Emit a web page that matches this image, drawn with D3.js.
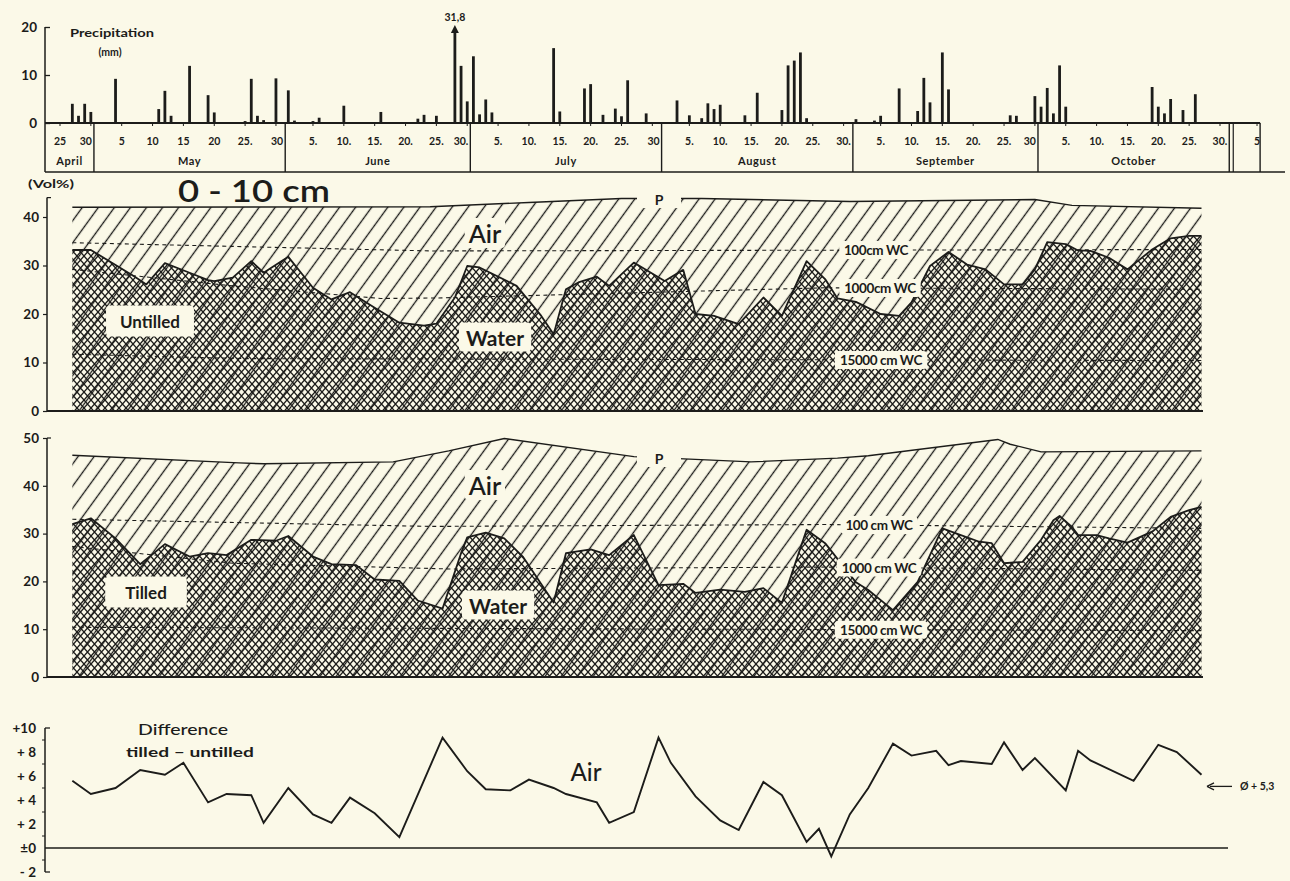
<!DOCTYPE html>
<html>
<head>
<meta charset="utf-8">
<script src="https://cdn.jsdelivr.net/npm/d3@7"></script>
<style>
  html, body { margin: 0; padding: 0; background: #fbf9e8; }
  svg { display: block; font-family: "Lato", "Liberation Sans", "DejaVu Sans", sans-serif; }
</style>
</head>
<body>
<svg id="chart" width="1290" height="881"></svg>
<script>
// ---------- data ----------
// daily precipitation, mm  [month-day, value]
const precipitation = [
  ["04-27", 4.0], ["04-28", 1.5], ["04-29", 4.0], ["04-30", 2.3],
  ["05-04", 9.2], ["05-11", 2.9], ["05-12", 6.7], ["05-13", 1.5], ["05-16", 11.9], ["05-19", 5.8],
  ["05-20", 2.2], ["05-25", 0.4], ["05-26", 9.2], ["05-27", 1.5], ["05-28", 0.6], ["05-30", 9.3],
  ["06-01", 6.8], ["06-02", 0.5], ["06-05", 0.4], ["06-06", 1.1], ["06-10", 3.6], ["06-16", 2.3],
  ["06-22", 0.9], ["06-23", 1.7], ["06-25", 1.5], ["06-28", 31.8], ["06-29", 11.9], ["06-30", 4.5],
  ["07-01", 13.9], ["07-02", 1.8], ["07-03", 4.9], ["07-04", 2.2], ["07-14", 15.6], ["07-15", 2.4],
  ["07-19", 7.2], ["07-20", 8.1], ["07-22", 1.7], ["07-24", 3.0], ["07-25", 1.4], ["07-26", 8.9], ["07-29", 2.0],
  ["08-03", 4.7], ["08-05", 1.6], ["08-07", 1.0], ["08-08", 4.1], ["08-09", 2.9], ["08-10", 3.8],
  ["08-14", 1.6], ["08-16", 6.3], ["08-20", 2.7], ["08-21", 12.0], ["08-22", 13.0], ["08-23", 14.7], ["08-24", 1.0],
  ["09-01", 0.8], ["09-04", 0.5], ["09-05", 1.5], ["09-08", 7.2], ["09-11", 2.5], ["09-12", 9.4],
  ["09-13", 4.3], ["09-15", 14.7], ["09-16", 7.0], ["09-26", 1.6], ["09-27", 1.5], ["09-30", 5.6],
  ["10-01", 3.4], ["10-02", 7.3], ["10-03", 2.0], ["10-04", 12.0], ["10-05", 3.4],
  ["10-19", 7.5], ["10-20", 3.4], ["10-21", 2.0], ["10-22", 5.0], ["10-24", 2.7], ["10-26", 6.0]
];
const precipTicks = [0, 10, 20];

// date axis
const dayTickDates = [
  "04-25", "04-30",
  "05-05", "05-10", "05-15", "05-20", "05-25", "05-30",
  "06-05", "06-10", "06-15", "06-20", "06-25", "06-30",
  "07-05", "07-10", "07-15", "07-20", "07-25", "07-30",
  "08-05", "08-10", "08-15", "08-20", "08-25", "08-30",
  "09-05", "09-10", "09-15", "09-20", "09-25", "09-30",
  "10-05", "10-10", "10-15", "10-20", "10-25", "10-30",
  "11-05"
];
const dayTickLabels = [
  "25", "30",
  "5", "10", "15", "20", "25.", "30",
  "5.", "10.", "15.", "20.", "25.", "30.",
  "5.", "10.", "15.", "20.", "25.", "30",
  "5.", "10.", "15.", "20.", "25.", "30.",
  "5.", "10.", "15.", "20.", "25.", "30",
  "5.", "10.", "15.", "20.", "25.", "30.",
  "5"
];
const monthNumbers = [4, 5, 6, 7, 8, 9, 10, 11];
const monthNames = ["April", "May", "June", "July", "August", "September", "October", ""];

// 0-10 cm, untilled plot (Vol%)
const untilledWater = [
  ["04-27", 33.2], ["04-30", 33.2], ["05-07", 27.8], ["05-09", 26.1], ["05-12", 30.5], ["05-16", 28.5],
  ["05-19", 27.0], ["05-20", 26.8], ["05-23", 27.5], ["05-26", 30.9], ["05-28", 28.5], ["06-01", 31.8],
  ["06-05", 25.4], ["06-08", 23.0], ["06-11", 24.5], ["06-15", 21.3], ["06-19", 18.2], ["06-23", 17.6],
  ["06-25", 18.0], ["06-28", 23.4], ["06-30", 29.9], ["07-02", 29.6], ["07-08", 25.8], ["07-12", 19.6],
  ["07-14", 15.8], ["07-16", 25.1], ["07-18", 26.5], ["07-21", 27.7], ["07-23", 25.8], ["07-27", 30.6],
  ["08-01", 26.8], ["08-04", 29.1], ["08-06", 20.0], ["08-09", 19.6], ["08-13", 17.9], ["08-17", 23.4],
  ["08-20", 19.6], ["08-24", 30.9], ["08-27", 27.2], ["08-29", 23.2], ["09-01", 22.5], ["09-05", 20.0],
  ["09-08", 19.6], ["09-10", 22.4], ["09-13", 29.9], ["09-16", 32.8], ["09-19", 30.2], ["09-22", 29.2],
  ["09-25", 26.1], ["09-28", 26.1], ["09-30", 29.2], ["10-02", 34.8], ["10-05", 34.4], ["10-07", 33.1],
  ["10-09", 33.0], ["10-12", 31.6], ["10-15", 29.2], ["10-19", 33.3], ["10-22", 35.6], ["10-25", 36.1],
  ["10-27", 36.1]
];
const untilledPorosity = [
  ["04-27", 42.0], ["06-24", 42.1], ["07-10", 43.0], ["07-25", 43.8], ["08-07", 43.8],
  ["08-31", 43.2], ["09-30", 43.6], ["10-06", 42.4], ["10-27", 41.8]
];
const untilled100 = [["04-27", 34.7], ["06-24", 33.0], ["10-27", 33.3]];
const untilled1000 = [["04-27", 29.2], ["05-23", 25.8], ["06-16", 23.2], ["06-25", 23.3], ["08-27", 25.4], ["10-27", 25.1]];
const untilled15000 = [["04-27", 11.7], ["05-25", 10.8], ["10-27", 10.4]];
const untilledTicks = [0, 10, 20, 30, 40];

// 0-10 cm, tilled plot (Vol%)
const tilledWater = [
  ["04-27", 32.0], ["04-30", 33.2], ["05-04", 29.0], ["05-08", 23.6], ["05-12", 27.8], ["05-16", 25.2],
  ["05-19", 25.9], ["05-22", 25.5], ["05-26", 28.7], ["05-30", 28.5], ["06-01", 29.5], ["06-05", 25.2],
  ["06-08", 23.6], ["06-12", 23.4], ["06-15", 20.4], ["06-19", 20.1], ["06-22", 16.0], ["06-26", 14.3],
  ["06-29", 25.9], ["06-30", 29.2], ["07-03", 30.2], ["07-06", 29.0], ["07-09", 25.2], ["07-14", 15.6],
  ["07-16", 25.9], ["07-20", 26.7], ["07-23", 25.5], ["07-27", 29.7], ["07-31", 19.2], ["08-04", 19.5],
  ["08-06", 17.6], ["08-10", 18.3], ["08-14", 17.8], ["08-17", 18.6], ["08-20", 15.5], ["08-24", 30.8],
  ["08-27", 28.0], ["09-01", 19.8], ["09-03", 18.2], ["09-07", 14.0], ["09-11", 19.9], ["09-15", 31.1],
  ["09-18", 29.7], ["09-21", 28.3], ["09-23", 28.0], ["09-25", 23.8], ["09-28", 24.1], ["10-01", 28.7],
  ["10-03", 32.8], ["10-04", 33.7], ["10-06", 31.4], ["10-07", 29.7], ["10-10", 29.7], ["10-12", 29.0],
  ["10-15", 28.1], ["10-19", 30.4], ["10-22", 33.5], ["10-25", 34.9], ["10-27", 35.6]
];
const tilledPorosity = [
  ["04-27", 46.4], ["05-24", 44.8], ["05-28", 44.6], ["06-18", 45.0], ["06-27", 47.3], ["07-06", 49.9],
  ["07-27", 46.1], ["08-15", 45.0], ["08-29", 45.8], ["09-03", 46.3], ["09-24", 49.7], ["09-26", 48.7],
  ["10-01", 47.1], ["10-27", 47.3]
];
const tilled100 = [["04-27", 33.0], ["06-24", 31.5], ["08-27", 31.9], ["10-27", 31.1]];
const tilled1000 = [["04-27", 27.3], ["05-23", 23.8], ["06-27", 22.6], ["08-27", 23.0], ["10-27", 22.3]];
const tilled15000 = [["04-27", 10.4], ["10-27", 9.7]];
const tilledTicks = [0, 10, 20, 30, 40, 50];

// air difference, tilled - untilled (Vol%)
const airDifference = [
  ["04-27", 5.6], ["04-30", 4.5], ["05-04", 5.0], ["05-08", 6.5], ["05-12", 6.1], ["05-15", 7.1],
  ["05-19", 3.8], ["05-22", 4.5], ["05-26", 4.4], ["05-28", 2.1], ["06-01", 5.0], ["06-05", 2.8],
  ["06-08", 2.1], ["06-11", 4.2], ["06-15", 2.9], ["06-19", 0.9], ["06-26", 9.2], ["06-30", 6.4],
  ["07-03", 4.9], ["07-07", 4.8], ["07-10", 5.7], ["07-14", 5.0], ["07-16", 4.5], ["07-21", 3.8],
  ["07-23", 2.1], ["07-27", 3.0], ["07-31", 9.2], ["08-02", 7.1], ["08-06", 4.3], ["08-10", 2.3],
  ["08-13", 1.5], ["08-17", 5.5], ["08-20", 4.4], ["08-24", 0.5], ["08-26", 1.6], ["08-28", -0.7],
  ["08-31", 2.8], ["09-03", 5.0], ["09-07", 8.7], ["09-10", 7.7], ["09-14", 8.1], ["09-16", 6.9],
  ["09-18", 7.25], ["09-23", 7.0], ["09-25", 8.8], ["09-28", 6.5], ["09-30", 7.5], ["10-05", 4.8],
  ["10-07", 8.1], ["10-09", 7.3], ["10-16", 5.6], ["10-20", 8.6], ["10-23", 8.0], ["10-27", 6.1]
];
const meanDifference = 5.3;
const diffTicks = [-2, 0, 2, 4, 6, 8, 10];
const diffTickLabels = ["- 2", "±0", "+ 2", "+ 4", "+ 6", "+ 8", "+10"];

// ---------- setup ----------
const INK = "#1c1c1a";
const BG = "#fbf9e8";
const YEAR = 1975;
const toDate = s => { const [m, d] = s.split("-").map(Number); return new Date(Date.UTC(YEAR, m - 1, d, 12)); };
const monthStart = m => new Date(Date.UTC(YEAR, m - 1, 1));
const comma = d3.formatLocale({ decimal: ",", thousands: ".", grouping: [3], currency: ["", ""] }).format(".1f");

const svg = d3.select("#chart");
svg.append("rect").attr("width", 1290).attr("height", 881).attr("fill", BG);

const x = d3.scaleUtc().domain([toDate("04-25"), toDate("10-30")]).range([60, 1220]);

// hatch patterns
const defs = svg.append("defs");
const airPat = defs.append("pattern").attr("id", "airHatch")
  .attr("patternUnits", "userSpaceOnUse").attr("width", 13).attr("height", 13)
  .attr("patternTransform", "rotate(36)");
airPat.append("line").attr("x1", 6.5).attr("y1", -1).attr("x2", 6.5).attr("y2", 14)
  .attr("stroke", INK).attr("stroke-width", 1.35);

const crossPat = defs.append("pattern").attr("id", "waterCross")
  .attr("patternUnits", "userSpaceOnUse").attr("width", 7).attr("height", 8);
crossPat.append("path").attr("d", "M0,0L7,8M7,0L0,8")
  .attr("stroke", INK).attr("stroke-width", 1.35).attr("fill", "none");

function label(g, text, cx, cy, size, opts = {}) {
  const t = g.append("text")
    .attr("x", cx).attr("y", cy)
    .attr("text-anchor", opts.anchor || "middle")
    .attr("dominant-baseline", "central")
    .attr("font-size", size)
    .attr("font-weight", opts.weight || 700)
    .attr("fill", INK)
    .text(text);
  if (opts.length) t.attr("textLength", opts.length).attr("lengthAdjust", "spacingAndGlyphs");
  if (opts.box) {
    const b = t.node().getBBox();
    const px = opts.padX != null ? opts.padX : 4, py = opts.padY != null ? opts.padY : 2;
    g.insert("rect", () => t.node())
      .attr("x", b.x - px).attr("y", b.y - py)
      .attr("width", b.width + 2 * px).attr("height", b.height + 2 * py)
      .attr("rx", 4).attr("fill", BG);
  }
  return t;
}

// ---------- precipitation ----------
const yP = d3.scaleLinear().domain([0, 20]).range([123, 27]);
const gP = svg.append("g");
const topP = 20;

gP.selectAll("rect.bar").data(precipitation).join("rect")
  .attr("class", "bar")
  .attr("x", d => x(toDate(d[0])) - 1.4)
  .attr("width", 2.8)
  .attr("y", d => d[1] > topP ? yP(topP) + 5 : yP(d[1]))
  .attr("height", d => yP(0) - (d[1] > topP ? yP(topP) + 5 : yP(d[1])))
  .attr("fill", INK);

// off-scale bar: arrow + value
precipitation.filter(d => d[1] > topP).forEach(d => {
  const cx = x(toDate(d[0]));
  gP.append("path")
    .attr("d", `M${cx - 4},${yP(topP) + 6}L${cx},${yP(topP) - 2}L${cx + 4},${yP(topP) + 6}Z`)
    .attr("fill", INK);
  label(gP, comma(d[1]), cx, yP(topP) - 10, 10.5);
});

// value axis
const axP = gP.append("g").attr("transform", "translate(45,0)")
  .call(d3.axisLeft(yP).tickValues(precipTicks).tickSize(-5).tickSizeOuter(0).tickPadding(8));
axP.select(".domain").remove();
axP.selectAll("line").attr("stroke", INK).attr("stroke-width", 1.3);
axP.selectAll("text").attr("font-size", 13.5).attr("font-weight", 700).attr("fill", INK)
  .attr("font-family", "Lato, 'Liberation Sans', sans-serif");
gP.append("line").attr("x1", 45).attr("x2", 45).attr("y1", yP(topP)).attr("y2", 172)
  .attr("stroke", INK).attr("stroke-width", 1.5);

label(gP, "Precipitation", 112, 33, 10.5, { length: 84 });
label(gP, "(mm)", 110, 52, 10.5);

// date box
const lastDay = new Date(Date.UTC(YEAR, 10, 6));
gP.append("line").attr("x1", 45).attr("x2", x(lastDay)).attr("y1", yP(0)).attr("y2", yP(0))
  .attr("stroke", INK).attr("stroke-width", 1.8);
gP.append("line").attr("x1", 45).attr("x2", 1285).attr("y1", 172).attr("y2", 172)
  .attr("stroke", INK).attr("stroke-width", 1.6);

const bounds = monthNumbers.slice(1).map(m => x(monthStart(m)));
bounds.concat([x(lastDay)]).forEach(bx => {
  gP.append("line").attr("x1", bx).attr("x2", bx).attr("y1", yP(0)).attr("y2", 172)
    .attr("stroke", INK).attr("stroke-width", 1.4);
});
gP.append("line").attr("x1", bounds[bounds.length - 1] + 4).attr("x2", bounds[bounds.length - 1] + 4)
  .attr("y1", yP(0)).attr("y2", 172).attr("stroke", INK).attr("stroke-width", 1.2);

// day ticks and labels
dayTickDates.forEach((s, i) => {
  const tx = x(toDate(s));
  gP.append("line").attr("x1", tx).attr("x2", tx).attr("y1", yP(0)).attr("y2", yP(0) + 3)
    .attr("stroke", INK).attr("stroke-width", 1);
  const isThirty = s.endsWith("-30");
  const m = +s.slice(0, 2);
  const lx = isThirty ? x(monthStart(m + 1)) - 2 : tx;
  label(gP, dayTickLabels[i], lx, 141, 10.5, { anchor: isThirty ? "end" : "middle" });
});

// month names
const edges = [45].concat(bounds).concat([x(lastDay)]);
monthNames.forEach((name, i) => {
  if (!name) return;
  label(gP, name, (edges[i] + edges[i + 1]) / 2, 160, 11, { weight: 700 }).attr("letter-spacing", 0.6);
});

// ---------- soil moisture panels ----------
function moisturePanel(cfg) {
  const { y, water, pore, wc, wcNames, ticks, topVal, tag, tagBox, airPos, waterPos, pBox } = cfg;
  const g = svg.append("g");
  const px = d => x(toDate(d[0]));
  const area0 = d3.area().x(px).y0(y(0)).y1(d => y(d[1]));
  const line = d3.line().x(px).y(d => y(d[1]));

  g.append("path").datum(pore).attr("d", area0).attr("fill", "url(#airHatch)");
  g.append("path").datum(water).attr("d", area0).attr("fill", "url(#waterCross)");
  g.append("path").datum(water).attr("d", line).attr("fill", "none")
    .attr("stroke", INK).attr("stroke-width", 1.8).attr("stroke-linejoin", "round");
  g.append("path").datum(pore).attr("d", line).attr("fill", "none")
    .attr("stroke", INK).attr("stroke-width", 1.4);

  wc.forEach(series => {
    g.append("path").datum(series).attr("d", line).attr("fill", "none")
      .attr("stroke", INK).attr("stroke-width", 1.1).attr("stroke-dasharray", "4,3.5");
  });

  // baseline and value axis
  const x0 = 47, x1 = px(water[water.length - 1]) + 1.5;
  g.append("line").attr("x1", x0).attr("x2", x1).attr("y1", y(0)).attr("y2", y(0))
    .attr("stroke", INK).attr("stroke-width", 1.8);
  const ax = g.append("g").attr("transform", `translate(${x0},0)`)
    .call(d3.axisLeft(y).tickValues(ticks).tickSize(4).tickSizeOuter(0).tickPadding(4));
  ax.select(".domain").remove();
  ax.selectAll("line").attr("stroke", INK).attr("stroke-width", 1.2);
  ax.selectAll("text").attr("font-size", 13.5).attr("font-weight", 700).attr("fill", INK)
    .attr("font-family", "Lato, 'Liberation Sans', sans-serif");
  g.append("line").attr("x1", x0).attr("x2", x0).attr("y1", y(0)).attr("y2", y(topVal))
    .attr("stroke", INK).attr("stroke-width", 1.5);
  g.append("line").attr("x1", x0).attr("x2", x0 + 4).attr("y1", y(topVal)).attr("y2", y(topVal))
    .attr("stroke", INK).attr("stroke-width", 1.2);

  // suction lines labels
  wcNames.forEach((nm, i) => {
    const s = wc[i];
    const pos = cfg.wcLabelX[i];
    const v = d3.scaleUtc().domain(s.map(d => toDate(d[0]))).range(s.map(d => d[1]));
    label(g, nm, pos, y(v(x.invert(pos))), 13.5, { box: true, padX: 3, padY: 1, weight: 700 })
      .attr("letter-spacing", -0.4);
  });

  // porosity mark
  g.append("rect").attr("x", pBox[0]).attr("y", pBox[1]).attr("width", pBox[2]).attr("height", pBox[3]).attr("fill", BG);
  label(g, "P", pBox[0] + pBox[2] / 2, pBox[1] + pBox[3] / 2, 14);

  label(g, "Air", airPos[0], airPos[1], 25, { box: true, padX: 3, padY: 0, weight: 600 });
  label(g, "Water", waterPos[0], waterPos[1], 21, { box: true, padX: 7, padY: 2, weight: 700 });
  label(g, tag, tagBox[0], tagBox[1], 17, { box: true, padX: tagBox[2], padY: 5, weight: 700 });
  return g;
}

const yU = d3.scaleLinear().domain([0, 44]).range([411, 197.6]);
const yT = d3.scaleLinear().domain([0, 50]).range([677, 438]);

moisturePanel({
  y: yU, water: untilledWater, pore: untilledPorosity,
  wc: [untilled100, untilled1000, untilled15000],
  wcNames: ["100cm WC", "1000cm WC", "15000 cm WC"],
  wcLabelX: [876, 880, 881],
  ticks: untilledTicks, topVal: 44,
  tag: "Untilled", tagBox: [150, 321, 14],
  airPos: [485, 233], waterPos: [495, 337],
  pBox: [637, 190, 44, 18]
});

moisturePanel({
  y: yT, water: tilledWater, pore: tilledPorosity,
  wc: [tilled100, tilled1000, tilled15000],
  wcNames: ["100 cm WC", "1000 cm WC", "15000 cm WC"],
  wcLabelX: [879, 879, 881],
  ticks: tilledTicks, topVal: 50,
  tag: "Tilled", tagBox: [146, 592, 20],
  airPos: [485, 485], waterPos: [498, 605],
  pBox: [637, 449, 44, 18]
});

// panel headings
label(svg, "(Vol%)", 51, 184, 10.5, { length: 46 });
label(svg, "0 - 10 cm", 254, 190, 30, { length: 152, weight: 600 });

// ---------- difference panel ----------
const yD = d3.scaleLinear().domain([-2, 10]).range([872, 728]);
const gD = svg.append("g");
gD.append("line").attr("x1", 45).attr("x2", 1228).attr("y1", yD(0)).attr("y2", yD(0))
  .attr("stroke", INK).attr("stroke-width", 1.6);
gD.append("path").datum(airDifference)
  .attr("d", d3.line().x(d => x(toDate(d[0]))).y(d => yD(d[1])))
  .attr("fill", "none").attr("stroke", INK).attr("stroke-width", 1.9).attr("stroke-linejoin", "miter");

const axD = gD.append("g").attr("transform", "translate(45,0)")
  .call(d3.axisLeft(yD).tickValues(diffTicks).tickFormat((d, i) => diffTickLabels[i])
    .tickSize(0).tickPadding(9));
axD.select(".domain").remove();
axD.selectAll("text").attr("font-size", 13.5).attr("font-weight", 700).attr("fill", INK)
  .attr("font-family", "Lato, 'Liberation Sans', sans-serif");
gD.append("line").attr("x1", 45).attr("x2", 45).attr("y1", yD(10)).attr("y2", yD(-2))
  .attr("stroke", INK).attr("stroke-width", 1.5);
[10, -2].forEach(v => gD.append("line").attr("x1", 45).attr("x2", 50).attr("y1", yD(v)).attr("y2", yD(v))
  .attr("stroke", INK).attr("stroke-width", 1.3));
d3.range(-1, 10, 2).forEach(v => gD.append("line").attr("x1", 42).attr("x2", 45).attr("y1", yD(v)).attr("y2", yD(v))
  .attr("stroke", INK).attr("stroke-width", 1));

label(gD, "Difference", 183, 728, 16, { weight: 500, length: 90 });
label(gD, "tilled – untilled", 190, 752, 13, { weight: 700, length: 128 });
label(gD, "Air", 586, 771, 24, { weight: 500 });

// mean difference marker
const ym = yD(meanDifference) + 2;
gD.append("line").attr("x1", 1210).attr("x2", 1232).attr("y1", ym).attr("y2", ym)
  .attr("stroke", INK).attr("stroke-width", 1.3);
gD.append("path").attr("d", `M1207,${ym}L1214,${ym - 3.5}M1207,${ym}L1214,${ym + 3.5}`)
  .attr("stroke", INK).attr("stroke-width", 1.3).attr("fill", "none");
label(gD, "Ø + " + comma(meanDifference), 1240, ym, 10.5, { anchor: "start" });
</script>
</body>
</html>
